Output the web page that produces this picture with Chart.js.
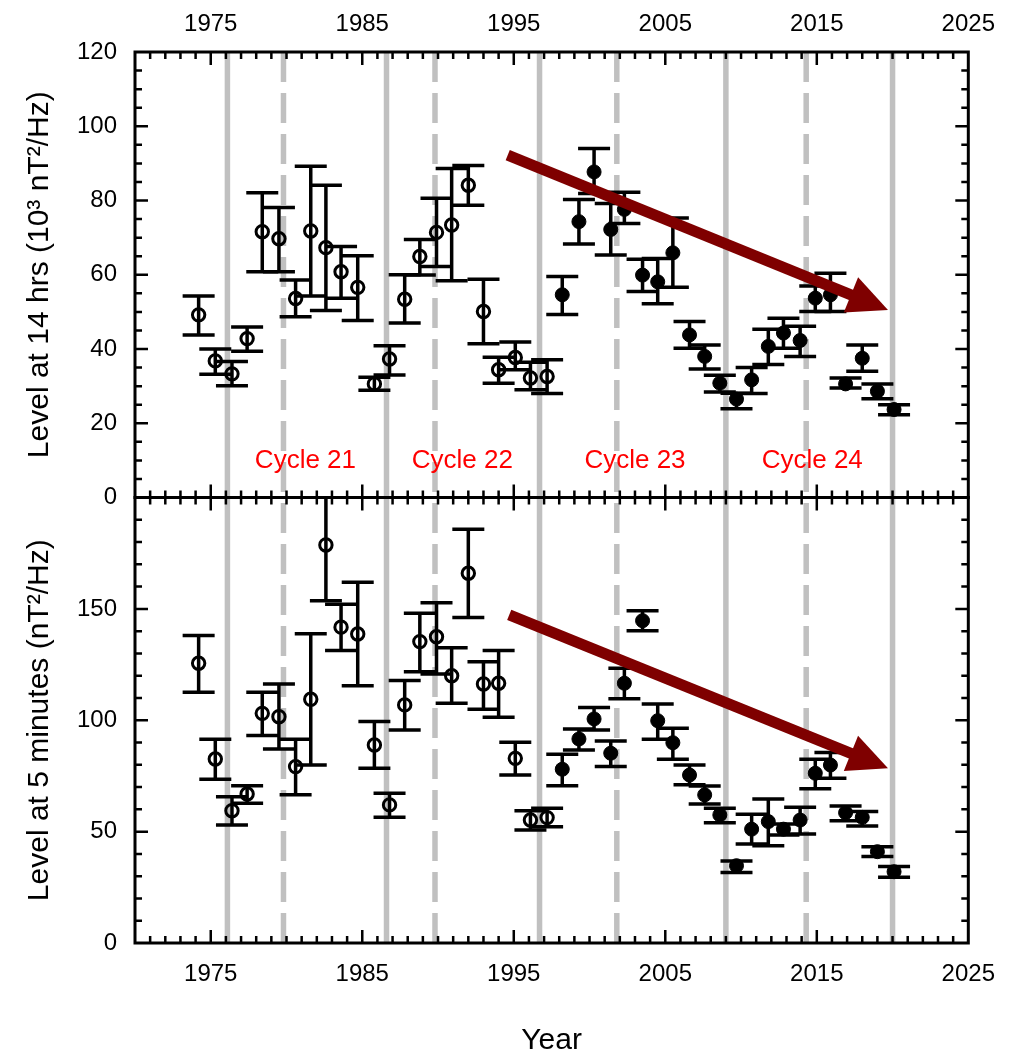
<!DOCTYPE html>
<html>
<head>
<meta charset="utf-8">
<script src="https://cdn.jsdelivr.net/npm/chart.js@4.4.1/dist/chart.umd.min.js"></script>
<style>
  html, body { margin: 0; padding: 0; background: #fff; }
  canvas { display: block; }
</style>
</head>
<body>
<canvas id="chart" width="1012" height="1055"></canvas>
<script>
// --- Values ---
const years = [1974.2, 1975.3, 1976.4, 1977.4, 1978.4, 1979.5, 1980.6, 1981.6, 1982.6, 1983.6,
               1984.7, 1985.8, 1986.8, 1987.8, 1988.8, 1989.9, 1990.9, 1992.0, 1993.0, 1994.0,
               1995.1, 1996.1, 1997.2, 1998.2, 1999.3, 2000.3, 2001.4, 2002.3, 2003.5, 2004.5,
               2005.5, 2006.6, 2007.6, 2008.6, 2009.7, 2010.7, 2011.8, 2012.8, 2013.9, 2014.9,
               2015.9, 2016.9, 2018.0, 2019.0, 2020.1];

// level at 14 hrs (10^3 nT^2/Hz)
const level14   = [49.2, 36.8, 33.3, 42.8, 71.6, 69.7, 53.6, 71.8, 67.3, 60.8, 56.6, 30.6, 37.3, 53.4, 64.9,
                   71.4, 73.4, 84.1, 50.1, 34.4, 37.7, 32.2, 32.6, 54.6, 74.3, 87.7, 72.2, 77.6, 59.9, 58.1,
                   65.9, 43.8, 38.0, 30.8, 26.5, 31.7, 40.7, 44.3, 42.3, 53.7, 54.6, 30.6, 37.5, 28.6, 23.7];
const level14Hi = [54.3, 40.0, 36.6, 45.9, 82.1, 78.1, 58.6, 89.2, 84.1, 67.6, 65.1, 32.4, 40.9, 60.0, 69.5,
                   80.6, 88.6, 89.4, 58.8, 37.8, 41.9, 36.4, 37.1, 59.5, 80.3, 94.0, 79.2, 82.2, 64.2, 64.4,
                   75.3, 47.4, 41.1, 32.9, 28.1, 35.0, 45.3, 48.3, 46.1, 57.0, 60.4, 32.2, 41.1, 30.6, 25.0];
const level14Lo = [43.8, 33.2, 30.1, 39.4, 60.8, 60.8, 48.7, 54.3, 50.4, 53.7, 47.7, 28.9, 33.0, 47.0, 59.9,
                   62.2, 58.4, 78.7, 41.4, 30.8, 34.4, 29.0, 28.0, 49.3, 68.3, 81.9, 65.3, 73.8, 55.5, 52.2,
                   56.6, 40.2, 34.6, 28.4, 23.9, 28.0, 35.8, 40.2, 38.0, 50.1, 50.1, 29.5, 34.0, 26.6, 22.3];

// level at 5 minutes (nT^2/Hz)
const level5   = [125.6, 82.6, 59.4, 66.9, 103.1, 101.6, 79.2, 109.4, 178.7, 141.8, 138.7, 88.9, 62.0, 106.9, 135.3,
                  137.5, 120.0, 166.0, 116.3, 116.6, 82.9, 55.2, 56.3, 78.0, 91.6, 100.6, 85.2, 116.6, 144.7, 99.8,
                  89.9, 75.4, 66.5, 57.5, 34.7, 51.1, 54.5, 51.1, 55.2, 76.2, 79.9, 58.5, 56.4, 41.0, 32.0];
const level5Hi = [138.0, 91.5, 65.7, 70.6, 112.6, 116.3, 91.5, 138.8, 200.0, 152.1, 162.0, 99.4, 67.2, 117.8, 148.0,
                  152.8, 132.6, 185.8, 126.3, 131.3, 90.1, 59.4, 60.5, 84.7, 96.1, 105.7, 90.7, 123.3, 149.2, 107.3,
                  96.4, 79.9, 70.5, 60.5, 36.8, 57.8, 64.7, 53.4, 60.9, 82.5, 85.5, 61.5, 59.0, 43.2, 34.3];
const level5Lo = [112.6, 73.5, 53.0, 62.7, 93.1, 87.1, 66.5, 79.9, 153.7, 131.3, 115.5, 78.4, 56.4, 95.6, 121.8,
                  120.8, 107.6, 146.1, 104.9, 101.3, 75.4, 50.7, 52.2, 70.6, 86.7, 95.6, 79.2, 109.6, 140.2, 91.5,
                  82.5, 71.0, 62.4, 54.0, 31.6, 44.5, 43.7, 48.5, 48.9, 69.2, 74.0, 54.9, 52.5, 38.8, 29.5];

const firstFilledYear = 1998;   // open circles before, filled after

const xTickLabels = [1975, 1985, 1995, 2005, 2015, 2025];
const yTopTicks = [0, 20, 40, 60, 80, 100, 120];
const yBotTicks = [0, 50, 100, 150];

const solarMinYears = [1976.1, 1986.6, 1996.7, 2009.0, 2020.0];
const solarMaxYears = [1979.8, 1989.8, 2001.8, 2014.3];

const cycleNames = ['Cycle 21', 'Cycle 22', 'Cycle 23', 'Cycle 24'];
const cycleYears = [1981.25, 1991.6, 2003.0, 2014.7];
const cycleLevel = 10;

const arrowTop = [[1994.6, 92.2], [2019.7, 50.5]];
const arrowBot = [[1994.7, 147.3], [2019.7, 78.4]];

// --- helpers ---
const FONT = "'Liberation Sans', Arial, sans-serif";

function points(values, lo, hi, filled) {
    const out = [];
    years.forEach((yr, i) => {
        if ((yr >= firstFilledYear) === filled) {
            out.push({ x: yr, y: values[i], lo: lo[i], hi: hi[i] });
        }
    });
    return out;
}

function markerSet(data, axis, filled) {
    return {
        data: data,
        yAxisID: axis,
        pointStyle: 'circle',
        pointRadius: filled ? 7 : 6.2,
        pointBorderWidth: filled ? 1 : 3,
        pointBorderColor: '#000',
        pointBackgroundColor: filled ? '#000' : 'rgba(0,0,0,0)',
        showLine: false
    };
}

function fixedTicks(values) {
    return scale => { scale.ticks = values.map(v => ({ value: v })); };
}

// vertical gray cycle lines + error bars, behind the markers
const backdropPlugin = {
    id: 'backdrop',
    beforeDatasetsDraw(chart) {
        const { ctx, scales } = chart;
        const x = scales.x, top = scales.yTop.top, bottom = scales.yBot.bottom;
        ctx.save();
        ctx.strokeStyle = '#c0c0c0';
        ctx.lineWidth = 5.5;
        solarMinYears.forEach(yr => {
            const px = x.getPixelForValue(yr);
            ctx.beginPath(); ctx.moveTo(px, top); ctx.lineTo(px, bottom); ctx.stroke();
        });
        ctx.setLineDash([30, 11]);
        solarMaxYears.forEach(yr => {
            const px = x.getPixelForValue(yr);
            ctx.beginPath(); ctx.moveTo(px, top); ctx.lineTo(px, bottom); ctx.stroke();
        });
        ctx.setLineDash([]);

        // error bars
        ctx.strokeStyle = '#000';
        ctx.lineWidth = 3.5;
        chart.data.datasets.forEach((ds, di) => {
            const meta = chart.getDatasetMeta(di);
            const yScale = scales[ds.yAxisID];
            ds.data.forEach((p, i) => {
                const px = meta.data[i].x;
                const yHi = yScale.getPixelForValue(p.hi);
                const yLo = yScale.getPixelForValue(p.lo);
                ctx.beginPath();
                ctx.moveTo(px, yHi); ctx.lineTo(px, yLo);
                if (p.hi < yScale.max) { ctx.moveTo(px - 16, yHi); ctx.lineTo(px + 16, yHi); }
                ctx.moveTo(px - 16, yLo); ctx.lineTo(px + 16, yLo);
                ctx.stroke();
            });
        });
        ctx.restore();
    }
};

// panel frames with inward ticks, arrows, cycle labels
const overlayPlugin = {
    id: 'overlay',
    afterDatasetsDraw(chart) {
        const { ctx, scales } = chart;
        const x = scales.x;
        ctx.save();
        ctx.strokeStyle = '#000';

        [[scales.yTop, 20, 5], [scales.yBot, 50, 10]].forEach(([y, major, minor]) => {
            // x ticks on bottom and top edge of the panel
            ctx.lineWidth = 2.5;
            ctx.beginPath();
            for (let yr = 1971; yr < 2025; yr++) {
                const len = (yr - 1975) % 10 === 0 ? 13 : 7;
                const px = x.getPixelForValue(yr);
                ctx.moveTo(px, y.bottom); ctx.lineTo(px, y.bottom - len);
                ctx.moveTo(px, y.top); ctx.lineTo(px, y.top + len);
            }
            // y ticks on left and right edge
            for (let v = minor; v < y.max; v += minor) {
                const len = v % major === 0 ? 13 : 7;
                const py = y.getPixelForValue(v);
                ctx.moveTo(x.left, py); ctx.lineTo(x.left + len, py);
                ctx.moveTo(x.right, py); ctx.lineTo(x.right - len, py);
            }
            ctx.stroke();
            ctx.lineWidth = 3;
            ctx.strokeRect(x.left, y.top, x.right - x.left, y.bottom - y.top);
        });

        // trend arrows
        ctx.strokeStyle = '#7f0000';
        ctx.fillStyle = '#7f0000';
        [[arrowTop, scales.yTop], [arrowBot, scales.yBot]].forEach(([a, y]) => {
            const x0 = x.getPixelForValue(a[0][0]), y0 = y.getPixelForValue(a[0][1]);
            const x1 = x.getPixelForValue(a[1][0]), y1 = y.getPixelForValue(a[1][1]);
            const ang = Math.atan2(y1 - y0, x1 - x0);
            const headLen = 40, headHalf = 19;
            const bx = x1 - headLen * Math.cos(ang), by = y1 - headLen * Math.sin(ang);
            ctx.lineWidth = 11;
            ctx.beginPath(); ctx.moveTo(x0, y0); ctx.lineTo(bx + 2 * Math.cos(ang), by + 2 * Math.sin(ang)); ctx.stroke();
            ctx.beginPath();
            ctx.moveTo(x1, y1);
            ctx.lineTo(bx + headHalf * Math.sin(ang), by - headHalf * Math.cos(ang));
            ctx.lineTo(bx - headHalf * Math.sin(ang), by + headHalf * Math.cos(ang));
            ctx.closePath();
            ctx.fill();
        });

        // cycle names
        ctx.fillStyle = '#ff0000';
        ctx.font = '26px ' + FONT;
        ctx.textAlign = 'center';
        ctx.textBaseline = 'middle';
        cycleNames.forEach((name, i) => {
            ctx.fillText(name, x.getPixelForValue(cycleYears[i]), scales.yTop.getPixelForValue(cycleLevel));
        });
        ctx.restore();
    }
};

const tickFont = { family: FONT, size: 24 };
const titleFont = { family: FONT, size: 30 };

function xAxis(position, height, padding, title) {
    return {
        type: 'linear',
        position: position,
        min: 1970,
        max: 2025,
        grid: { display: false, drawTicks: false },
        border: { display: false },
        afterBuildTicks: fixedTicks(xTickLabels),
        afterFit: scale => { scale.height = height; },
        ticks: {
            font: tickFont, color: '#000', padding: padding, autoSkip: false, maxRotation: 0,
            callback: v => String(v)
        },
        title: title
    };
}

function yAxis(max, ticks, weight, text) {
    return {
        type: 'linear',
        position: 'left',
        stack: 'panels',
        stackWeight: 1,
        weight: weight,
        min: 0,
        max: max,
        grid: { display: false, drawTicks: false },
        border: { display: false },
        afterBuildTicks: fixedTicks(ticks),
        afterFit: scale => { scale.width = 135; },
        ticks: { font: tickFont, color: '#000', padding: 18, autoSkip: false },
        title: { display: true, text: text, font: titleFont, color: '#000', padding: { top: 22, bottom: 0 } }
    };
}

new Chart(document.getElementById('chart'), {
    type: 'scatter',
    data: {
        datasets: [
            markerSet(points(level14, level14Lo, level14Hi, false), 'yTop', false),
            markerSet(points(level14, level14Lo, level14Hi, true), 'yTop', true),
            markerSet(points(level5, level5Lo, level5Hi, false), 'yBot', false),
            markerSet(points(level5, level5Lo, level5Hi, true), 'yBot', true)
        ]
    },
    options: {
        responsive: false,
        devicePixelRatio: 1,
        animation: false,
        layout: { padding: { left: 0, right: 42, top: 0, bottom: 0 } },
        plugins: { legend: { display: false }, tooltip: { enabled: false } },
        scales: {
            x: xAxis('bottom', 112, 17, { display: true, text: 'Year', font: titleFont, color: '#000', padding: { top: 0, bottom: -4 } }),
            x2: xAxis('top', 52, 13, { display: false }),
            yBot: yAxis(200, yBotTicks, 1, 'Level at 5 minutes (nT²/Hz)'),
            yTop: yAxis(120, yTopTicks, 2, 'Level at 14 hrs (10³ nT²/Hz)')
        }
    },
    plugins: [backdropPlugin, overlayPlugin]
});
</script>
</body>
</html>
